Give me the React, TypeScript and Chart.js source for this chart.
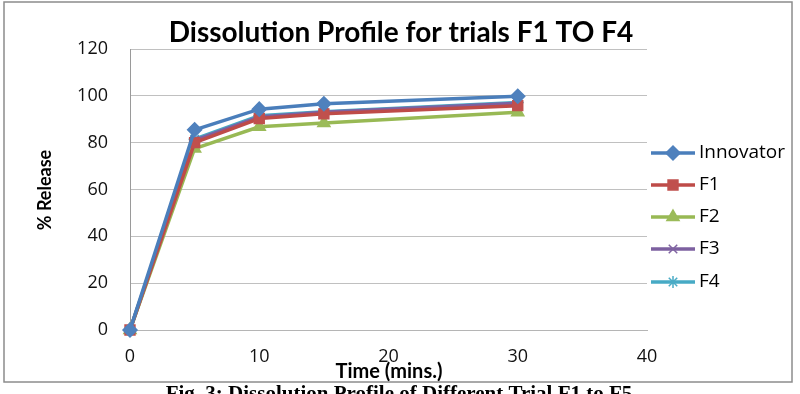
import React, { useEffect, useRef } from 'react';
import { Chart, registerables } from 'chart.js';
import { drawPoint } from 'chart.js/helpers';

Chart.register(...registerables);

// Sampling times (minutes) and percent released for each trial
const times = [0, 5, 10, 15, 30];
const innovator = [0, 85.5, 94.3, 96.6, 99.8];
const f1 = [0, 80, 90.3, 92.3, 95.8];
const f2 = [0, 77.5, 86.8, 88.4, 93];
const f3 = [0, 81, 91, 93, 96.8];
const f4 = [0, 81.5, 91.5, 93.2, 97.2];

const seriesNames = ['Innovator', 'F1', 'F2', 'F3', 'F4'];
const yTickValues = [0, 20, 40, 60, 80, 100, 120];
const xTickValues = [0, 10, 20, 30, 40];

const titleText = 'Dissolution Profile for trials F1 TO F4';
const yAxisTitle = '% Release';
const xAxisTitle = 'Time (mins.)';
const captionText = 'Fig. 3: Dissolution Profile of Different Trial F1 to F5';

const lineColors = ['#4A7EBB', '#BE4B48', '#98B954', '#7D60A0', '#46AAC5'];
const markerColors = ['#4F81BD', '#C0504D', '#9BBB59', '#8064A2', '#4BACC6'];
const markerStyles = ['rectRot', 'rect', 'triangle', 'crossRot', 'star'];
const markerRadius = [7, 7, 7, 6, 6];

const seriesValues = [innovator, f1, f2, f3, f4];

const decorations = {
  id: 'decorations',
  beforeDraw(chart: any) {
    const ctx = chart.ctx;
    ctx.save();
    ctx.fillStyle = '#ffffff';
    ctx.fillRect(0, 0, chart.width, chart.height);
    ctx.strokeStyle = '#8c8c8c';
    ctx.lineWidth = 1.5;
    ctx.strokeRect(4, 2, 788, 380);
    ctx.restore();
  },
  afterDraw(chart: any) {
    const ctx = chart.ctx;
    ctx.save();
    // title
    ctx.fillStyle = '#000';
    ctx.textAlign = 'center';
    ctx.textBaseline = 'middle';
    ctx.font = 'bold 28px Lato';
    ctx.fillText(titleText, 401, 33);

    // axis titles
    ctx.font = 'bold 20px Lato';
    ctx.fillText(xAxisTitle, 389, 372);
    ctx.font = 'bold 18px Lato';
    ctx.save();
    ctx.translate(45, 190);
    ctx.rotate(-Math.PI / 2);
    ctx.fillText(yAxisTitle, 0, 0);
    ctx.restore();

    // legend: line sample with centred marker
    const rows = [153, 185, 217, 249, 282];
    chart.data.datasets.forEach((ds: any, i: number) => {
      const y = rows[i];
      ctx.strokeStyle = ds.borderColor;
      ctx.lineWidth = 3.5;
      ctx.beginPath();
      ctx.moveTo(651, y);
      ctx.lineTo(695, y);
      ctx.stroke();
      ctx.fillStyle = ds.pointBackgroundColor;
      ctx.strokeStyle = ds.pointBorderColor;
      ctx.lineWidth = ds.pointBorderWidth;
      drawPoint(ctx, { pointStyle: ds.pointStyle, radius: ds.pointRadius, borderWidth: ds.pointBorderWidth, rotation: 0 }, 673, y);
      ctx.fillStyle = '#000';
      ctx.textAlign = 'left';
      ctx.textBaseline = 'middle';
      ctx.font = '19px "Open Sans"';
      ctx.fillText(ds.label, 699, y);
    });

    // caption below the frame
    ctx.fillStyle = '#000';
    ctx.textAlign = 'center';
    ctx.textBaseline = 'top';
    ctx.font = 'bold 21px "Liberation Serif"';
    ctx.fillText(captionText, 399, 384);
    ctx.restore();
  },
};

export default function App() {
  const ref = useRef<HTMLCanvasElement | null>(null);

  useEffect(() => {
    document.body.style.margin = '0';
    const canvas = ref.current;
    if (!canvas) return;
    const chart = new Chart(canvas, {
      type: 'line',
      data: {
        labels: times,
        datasets: seriesNames.map((name, i) => ({
          label: name,
          data: times.map((t, j) => ({ x: t, y: seriesValues[i][j] })),
          borderColor: lineColors[i],
          backgroundColor: markerColors[i],
          borderWidth: 3.5,
          pointStyle: markerStyles[i] as any,
          pointRadius: markerRadius[i],
          pointBackgroundColor: markerColors[i],
          pointBorderColor: markerColors[i],
          pointBorderWidth: 1.5,
          tension: 0,
          clip: false as any,
        })),
      },
      options: {
        animation: false,
        responsive: false,
        events: [],
        layout: { padding: { top: 49, right: 153, left: 0, bottom: 0 } },
        plugins: { legend: { display: false }, tooltip: { enabled: false }, title: { display: false } },
        scales: {
          x: {
            type: 'linear',
            min: 0,
            max: 40,
            afterFit: (s: any) => { s.height = 64; },
            afterBuildTicks: (s: any) => { s.ticks = xTickValues.map((v) => ({ value: v })); },
            grid: { display: false, drawTicks: false },
            border: { display: true, color: '#b5b5b5', width: 1 },
            ticks: { color: '#111', padding: 16, font: { family: '"Open Sans"', size: 18 } },
          },
          y: {
            type: 'linear',
            min: 0,
            max: 120,
            afterFit: (s: any) => { s.width = 130; },
            afterBuildTicks: (s: any) => { s.ticks = yTickValues.map((v) => ({ value: v })); },
            grid: { color: '#c0c0c0', lineWidth: 1, drawTicks: false },
            border: { display: true, color: '#9a9a9a', width: 1 },
            ticks: { color: '#111', padding: 22, font: { family: '"Open Sans"', size: 18 } },
          },
        },
      },
      plugins: [decorations],
    });
    return () => chart.destroy();
  }, []);

  return (
    <div style={{ width: 800, height: 394, overflow: 'hidden' }}>
      <canvas ref={ref} width={800} height={394} style={{ display: 'block' }} />
    </div>
  );
}
